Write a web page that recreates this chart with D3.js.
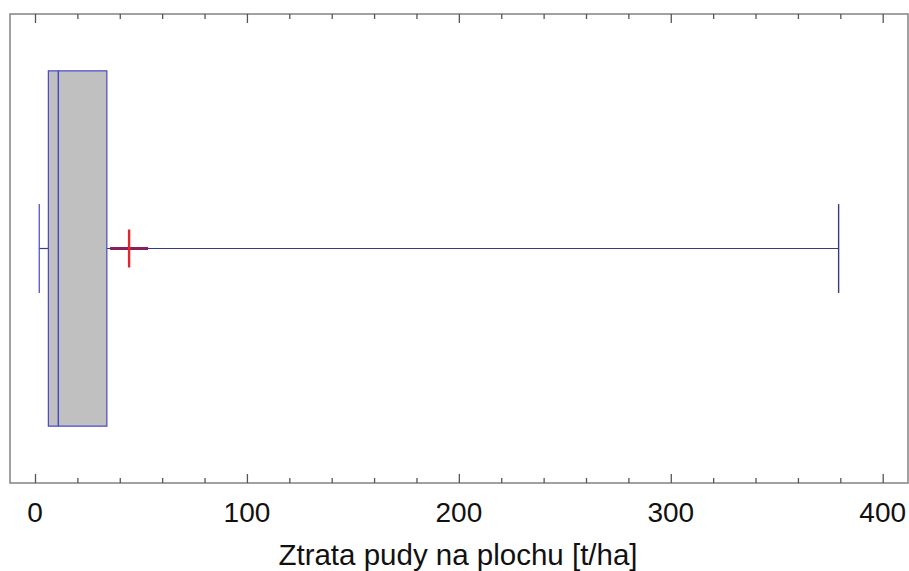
<!DOCTYPE html>
<html>
<head>
<meta charset="utf-8">
<script src="https://cdn.jsdelivr.net/npm/d3@7"></script>
<style>
  html, body { margin: 0; padding: 0; background: #fff; }
  svg { display: block; }
</style>
</head>
<body>
<svg id="chart" width="909" height="571"></svg>
<script>
// Soil loss per area: five-number summary and mean
const categories = ["Ztrata pudy"];
const minValues = [2.0];
const q1Values = [6.3];
const medianValues = [11.0];
const q3Values = [33.9];
const maxValues = [379.2];
const meanValues = [44.4];
const majorTicks = [0, 100, 200, 300, 400];
const minorTicks = d3.range(0, 401, 20);
const xTitle = "Ztrata pudy na plochu [t/ha]";

const svg = d3.select("#chart");
const frame = { left: 10, top: 14, right: 908, bottom: 483 };
const font = "Liberation Sans, Arial, sans-serif";

const x = d3.scaleLinear().domain([0, 400]).range([35, 882.7]);
const y = d3.scaleBand().domain(categories)
  .range([frame.top, frame.bottom]).paddingInner(0).paddingOuter(0.16);

// frame
svg.append("rect")
  .attr("x", frame.left).attr("y", frame.top)
  .attr("width", frame.right - frame.left).attr("height", frame.bottom - frame.top)
  .attr("fill", "none").attr("stroke", "#8a8a8a").attr("stroke-width", 1.6);

// bottom axis ticks (pointing up into the plot)
const gb = svg.append("g").attr("transform", `translate(0,${frame.bottom})`)
  .call(d3.axisBottom(x).tickValues(minorTicks).tickSize(-5).tickFormat(""));
gb.select(".domain").remove();
gb.selectAll(".tick line")
  .attr("y2", d => majorTicks.includes(d) ? -9 : -5)
  .attr("stroke", "#555").attr("stroke-width", 1.3);

// top axis ticks (pointing down into the plot)
const gt = svg.append("g").attr("transform", `translate(0,${frame.top})`)
  .call(d3.axisTop(x).tickValues(minorTicks).tickSize(-5).tickFormat(""));
gt.select(".domain").remove();
gt.selectAll(".tick line")
  .attr("y2", d => majorTicks.includes(d) ? 9 : 5)
  .attr("stroke", "#555").attr("stroke-width", 1.3);

// tick labels
svg.append("g").selectAll("text").data(majorTicks).join("text")
  .attr("x", d => x(d)).attr("y", 522)
  .attr("text-anchor", "middle")
  .attr("font-family", font)
  .style("font-size", "28px").attr("fill", "#111")
  .text(d => d);

// axis title
svg.append("text")
  .attr("x", 458).attr("y", 565)
  .attr("text-anchor", "middle")
  .attr("font-family", font)
  .style("font-size", "29.5px").attr("fill", "#111")
  .text(xTitle);

// box plots
const rows = categories.map((c, i) => ({
  c, min: minValues[i], q1: q1Values[i], med: medianValues[i],
  q3: q3Values[i], max: maxValues[i], mean: meanValues[i]
}));

const boxStroke = "#4646c8";
const whiskerStroke = "#3a3a80";

rows.forEach(r => {
  const top = y(r.c), h = y.bandwidth(), cy = top + h / 2;
  const capHalf = h / 8;
  const g = svg.append("g");

  // whiskers
  g.append("line").attr("x1", x(r.min)).attr("x2", x(r.q1)).attr("y1", cy).attr("y2", cy)
    .attr("stroke", whiskerStroke).attr("stroke-width", 1.2);
  g.append("line").attr("x1", x(r.q3)).attr("x2", x(r.max)).attr("y1", cy).attr("y2", cy)
    .attr("stroke", whiskerStroke).attr("stroke-width", 1.2);
  g.append("line").attr("x1", x(r.min)).attr("x2", x(r.min)).attr("y1", cy - capHalf).attr("y2", cy + capHalf)
    .attr("stroke", boxStroke).attr("stroke-width", 1.2);
  g.append("line").attr("x1", x(r.max)).attr("x2", x(r.max)).attr("y1", cy - capHalf).attr("y2", cy + capHalf)
    .attr("stroke", whiskerStroke).attr("stroke-width", 1.4);

  // box
  g.append("rect")
    .attr("x", x(r.q1)).attr("y", top)
    .attr("width", x(r.q3) - x(r.q1)).attr("height", h)
    .attr("fill", "#c0c0c0").attr("stroke", boxStroke).attr("stroke-width", 1.2);
  g.append("line").attr("x1", x(r.med)).attr("x2", x(r.med)).attr("y1", top).attr("y2", top + h)
    .attr("stroke", boxStroke).attr("stroke-width", 1.4);

  // mean marker
  const mx = x(r.mean), arm = 19;
  g.append("line").attr("x1", mx - arm).attr("x2", mx + arm).attr("y1", cy).attr("y2", cy)
    .attr("stroke", "#8a1f5e").attr("stroke-width", 3);
  g.append("line").attr("x1", mx).attr("x2", mx).attr("y1", cy - arm).attr("y2", cy + arm)
    .attr("stroke", "#e0262b").attr("stroke-width", 2.4);
});
</script>
</body>
</html>
